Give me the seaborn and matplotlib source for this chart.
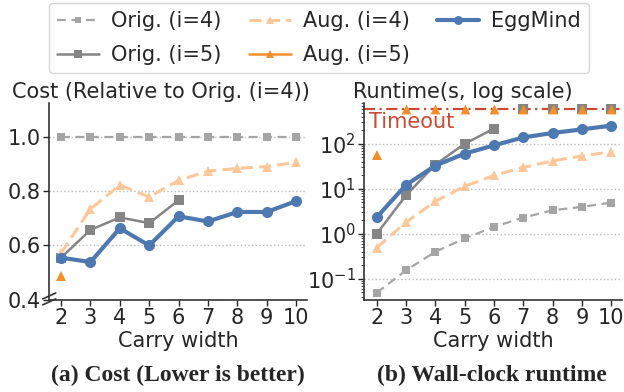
import numpy as np
import pandas as pd
import seaborn as sns
import matplotlib
matplotlib.use("Agg")
import matplotlib.pyplot as plt
from matplotlib.lines import Line2D

sns.set_style("ticks")
plt.rcParams['font.family'] = ['DejaVu Sans']

widths = [2, 3, 4, 5, 6, 7, 8, 9, 10]
nan = np.nan

# Cost (relative to Orig. i=4)
cost_orig4 = [1.0, 1.0, 1.0, 1.0, 1.0, 1.0, 1.0, 1.0, 1.0]
cost_orig5 = [0.555, 0.657, 0.703, 0.682, 0.766, nan, nan, nan, nan]
cost_aug4 = [0.572, 0.734, 0.822, 0.778, 0.839, 0.873, 0.883, 0.890, 0.905]
cost_aug5 = [0.488, nan, nan, nan, nan, nan, nan, nan, nan]
cost_egg = [0.555, 0.539, 0.663, 0.600, 0.707, 0.688, 0.723, 0.723, 0.763]

# Runtime (seconds)
rt_orig4 = [0.049, 0.155, 0.40, 0.79, 1.43, 2.3, 3.35, 3.98, 4.97]
rt_orig5 = [1.0, 7.2, 34.7, 101, 219, nan, nan, nan, nan]
rt_aug4 = [0.49, 1.81, 5.3, 11.4, 20, 30, 42, 54, 67]
rt_aug5 = [57, nan, nan, nan, nan, nan, nan, nan, nan]
rt_egg = [2.34, 12.3, 33, 61, 93, 140, 175, 211, 255]

timeout = 600
timeout_orig5 = [7, 8, 9, 10]
timeout_aug5 = [3, 4, 5, 6, 7, 8, 9, 10]

c_orig4 = "#a5a5a5"
c_orig5 = "#858585"
c_aug4 = "#fdc79a"
c_aug5 = "#f28e2b"
c_egg = "#4e79b0"
c_to = "#cc4a33"

fs = 15
fig = plt.figure(figsize=(6.24, 3.92), dpi=100)
ax1 = fig.add_axes([0.079, 0.235, 0.413, 0.502])
ax2 = fig.add_axes([0.584, 0.235, 0.413, 0.502])

styles = [
    ("Orig. (i=4)", c_orig4, "s", (4, 2.5), 1.6, 6),
    ("Orig. (i=5)", c_orig5, "s", "", 1.8, 6.5),
    ("Aug. (i=4)", c_aug4, "^", (4, 2), 2.2, 7),
    ("Aug. (i=5)", c_aug5, "^", "", 1.8, 7),
    ("EggMind", c_egg, "o", "", 3.0, 8),
]

def draw(ax, series):
    for (name, col, mk, dash, lw, ms), vals in zip(styles, series):
        df = pd.DataFrame({"w": widths, "v": vals}).dropna()
        sns.lineplot(data=df, x="w", y="v", ax=ax, color=col, marker=mk,
                     markersize=ms, markeredgewidth=0, linewidth=lw,
                     dashes=False, zorder=3 if name != "EggMind" else 4)
        if dash:
            ax.lines[-1].set_dashes(dash)

draw(ax1, [cost_orig4, cost_orig5, cost_aug4, cost_aug5, cost_egg])
draw(ax2, [rt_orig4, rt_orig5, rt_aug4, rt_aug5, rt_egg])

# Timeout markers
ax2.axhline(timeout, color=c_to, linestyle=(0, (5, 2, 1, 2)), linewidth=1.6, zorder=2)
sns.scatterplot(x=timeout_orig5, y=[timeout] * len(timeout_orig5), ax=ax2,
                color=c_orig5, marker="s", s=55, linewidth=0, zorder=5)
sns.scatterplot(x=timeout_aug5, y=[timeout] * len(timeout_aug5), ax=ax2,
                color=c_aug5, marker="^", s=50, linewidth=0, zorder=6)
ax2.text(1.74, 300, "Timeout", color=c_to, fontsize=fs, ha="left", va="center")

# Axes settings
ax1.set_xlim(1.6, 10.37)
ax1.set_ylim(0.4, 1.123)
ax1.set_yticks([0.4, 0.6, 0.8, 1.0])
ax1.set_yticklabels(["0.4", "0.6", "0.8", "1.0"])
ax2.set_xlim(1.58, 10.37)
ax2.set_yscale("log")
ax2.set_ylim(0.034, 810)
for ax in (ax1, ax2):
    ax.set_xticks(widths)
    ax.set_xticklabels([str(w) for w in widths])
    ax.tick_params(labelsize=fs, length=4, width=1, pad=2)
    ax.set_xlabel("Carry width", fontsize=fs, labelpad=2)
    ax.set_ylabel("")
    ax.grid(axis="y", linestyle=":", color="#bbbbbb", linewidth=1)
    ax.set_axisbelow(True)
    for s in ("top", "right"):
        ax.spines[s].set_visible(False)
    for s in ("left", "bottom"):
        ax.spines[s].set_color("#333333")
        ax.spines[s].set_linewidth(1.2)
    if ax.get_legend():
        ax.get_legend().remove()

ax1.set_title("Cost (Relative to Orig. (i=4))", fontsize=fs, pad=4, loc="left", x=-0.145)
ax2.set_title("Runtime(s, log scale)", fontsize=fs, pad=4, loc="left", x=-0.045)

# Broken axis marker
kw = dict(transform=ax1.transAxes, color="#333333", clip_on=False, linewidth=1.2)
ax1.plot([-0.025, 0.025], [0.005, 0.035], **kw)
ax1.plot([-0.025, 0.025], [-0.025, 0.005], **kw)

# Subcaptions
fig.text(0.2845, 0.027, "(a) Cost (Lower is better)", fontsize=17, fontweight="bold",
         family="Liberation Serif", ha="center")
fig.text(0.789, 0.027, "(b) Wall-clock runtime", fontsize=17, fontweight="bold",
         family="Liberation Serif", ha="center")

# Legend
handles = []
for name, col, mk, dash, lw, ms in styles:
    h = Line2D([0], [0], color=col, marker=mk, markersize=ms * 0.8,
               markeredgewidth=0, linewidth=lw, label=name)
    if dash:
        h.set_dashes(dash)
    handles.append(h)
fig.legend(handles=handles, loc="upper left",
           bbox_to_anchor=(0.0785, 0.992), ncol=3, fontsize=fs, frameon=True,
           handlelength=2.0, columnspacing=1.3, handletextpad=0.6,
           borderpad=0.4, labelspacing=0.65, edgecolor="#cccccc",
           borderaxespad=0)

fig.savefig("out.png", dpi=100)
